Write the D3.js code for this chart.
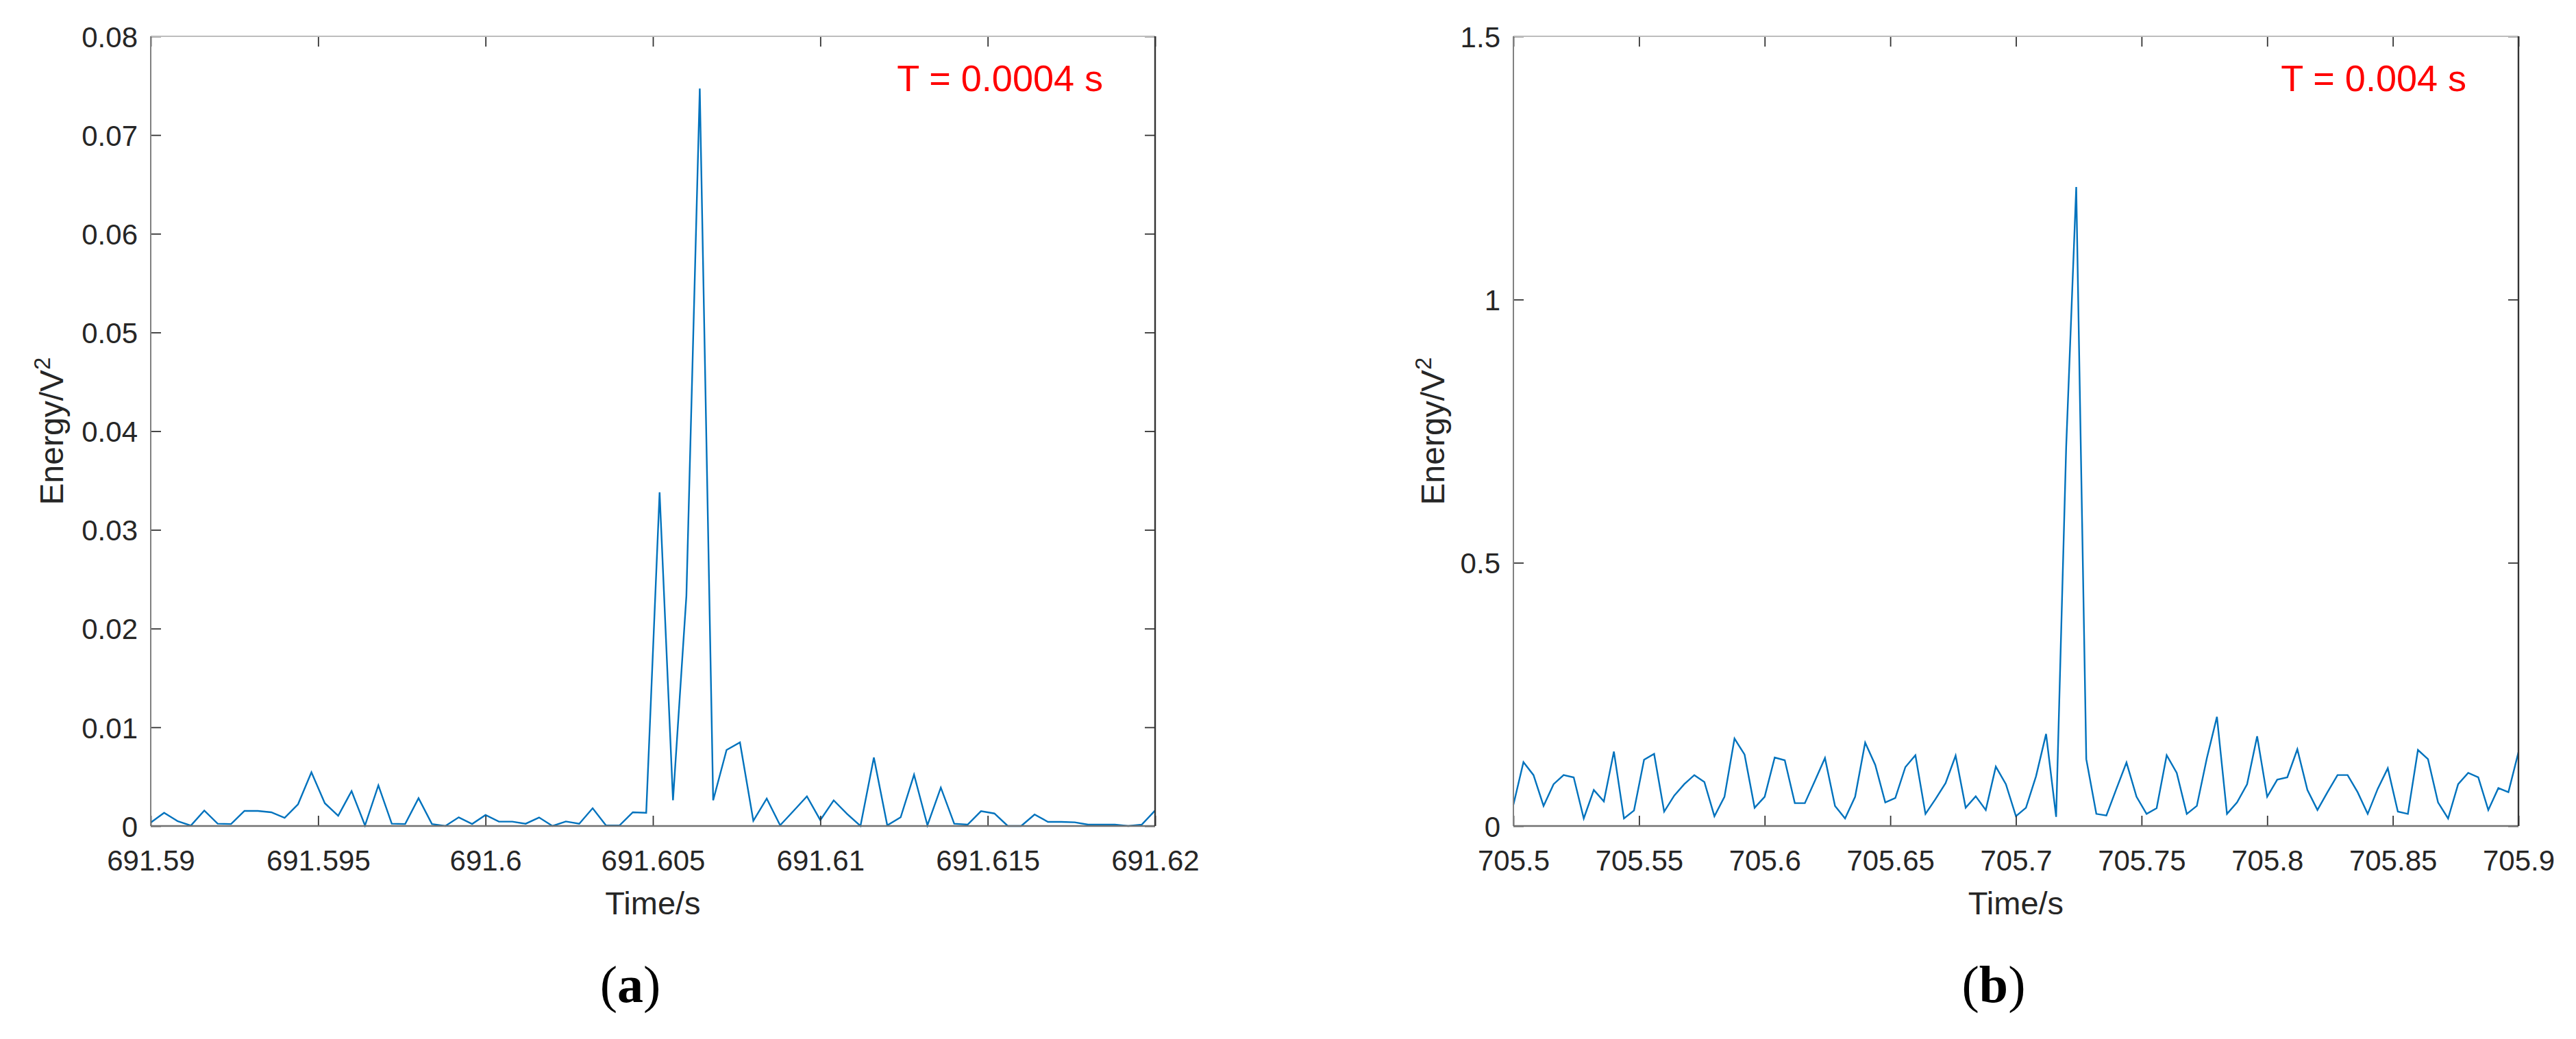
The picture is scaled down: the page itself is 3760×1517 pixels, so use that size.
<!DOCTYPE html>
<html><head><meta charset="utf-8">
<script src="https://cdn.jsdelivr.net/npm/d3@7"></script>
<style>html,body{margin:0;padding:0;background:#fff;} svg{display:block;}</style>
</head><body>
<svg id="chart" width="3760" height="1517"></svg>
<script>
// ---------- data ----------
const leftStart = 691.59;
const leftPeriod = 0.0004;
const leftEnergy = [
  0.00035, 0.00134, 0.0005, 0.00005, 0.00157, 0.00023, 0.0002, 0.00153, 0.00153, 0.00139,
  0.00083, 0.0022, 0.00544, 0.00231, 0.00104, 0.00354, 0.00005, 0.00412, 0.00023, 0.0002,
  0.00282, 0.0002, 0.0, 0.00088, 0.0002, 0.00111, 0.00044, 0.00044, 0.00023, 0.00086,
  0.0, 0.00046, 0.00023, 0.0018, 0.00005, 0.00005, 0.00139, 0.00134, 0.0338, 0.0026,
  0.0233, 0.0747, 0.0026, 0.0077, 0.00847, 0.00053, 0.00278, 0.00007, 0.00153, 0.003,
  0.0006, 0.0026, 0.00123, 0.0, 0.00694, 0.00007, 0.00088, 0.0052, 0.00007, 0.00389,
  0.00023, 0.00014, 0.0015, 0.00127, 0.0, 0.0, 0.00116, 0.00042, 0.00042, 0.00037,
  0.00014, 0.00014, 0.00014, 0.0, 0.00014, 0.00157
];
const leftXTicks = [691.59, 691.595, 691.6, 691.605, 691.61, 691.615, 691.62];
const leftXTickLabels = ["691.59", "691.595", "691.6", "691.605", "691.61", "691.615", "691.62"];
const leftYTicks = [0, 0.01, 0.02, 0.03, 0.04, 0.05, 0.06, 0.07, 0.08];
const leftYTickLabels = ["0", "0.01", "0.02", "0.03", "0.04", "0.05", "0.06", "0.07", "0.08"];
const leftNote = "T = 0.0004 s";
const leftCaption = "a";

const rightStart = 705.5;
const rightPeriod = 0.004;
const rightEnergy = [
  0.0403, 0.1214, 0.0967, 0.0382, 0.0794, 0.0967, 0.0924, 0.0143, 0.0685, 0.0468,
  0.1414, 0.0143, 0.0295, 0.1258, 0.137, 0.0273, 0.0577, 0.0794, 0.0967, 0.0837,
  0.0186, 0.0555, 0.1661, 0.1357, 0.0347, 0.0555, 0.1301, 0.1249, 0.0434, 0.0434,
  0.0859, 0.1292, 0.0382, 0.0143, 0.0555, 0.1583, 0.1162, 0.0447, 0.0533, 0.1119,
  0.1344, 0.023, 0.0512, 0.0815, 0.1336, 0.0347, 0.0564, 0.0304, 0.1127, 0.0794,
  0.0186, 0.0347, 0.0945, 0.1748, 0.0173, 0.72, 1.2137, 0.127, 0.023, 0.02,
  0.0707, 0.1206, 0.0555, 0.023, 0.0338, 0.1344, 0.101, 0.023, 0.0382, 0.1292,
  0.2073, 0.023, 0.0447, 0.0794, 0.1704, 0.0555, 0.088, 0.0924, 0.1457, 0.0685,
  0.0304, 0.0642, 0.0967, 0.0967, 0.0642, 0.023, 0.0707, 0.1097, 0.0273, 0.023,
  0.1444, 0.127, 0.0447, 0.0143, 0.0794, 0.101, 0.0924, 0.0304, 0.072, 0.0642,
  0.14
];
const rightXTicks = [705.5, 705.55, 705.6, 705.65, 705.7, 705.75, 705.8, 705.85, 705.9];
const rightXTickLabels = ["705.5", "705.55", "705.6", "705.65", "705.7", "705.75", "705.8", "705.85", "705.9"];
const rightYTicks = [0, 0.5, 1, 1.5];
const rightYTickLabels = ["0", "0.5", "1", "1.5"];
const rightNote = "T = 0.004 s";
const rightCaption = "b";

const xTitle = "Time/s";
const yTitleMain = "Energy/V";
const yTitleSup = "2";

// ---------- layout ----------
const W = 3760, H = 1517;
const FONT = "'Liberation Sans', Arial, Helvetica, sans-serif";
const TXT = "#262626";
const LINE = "#0072BD";

const panels = [
  { start: leftStart, period: leftPeriod, values: leftEnergy,
    xTicks: leftXTicks, xLabels: leftXTickLabels, yTicks: leftYTicks, yLabels: leftYTickLabels,
    note: leftNote, caption: leftCaption,
    box: { left: 220, right: 1686, top: 53, bottom: 1206 }, yTitleX: 92, captionX: 920 },
  { start: rightStart, period: rightPeriod, values: rightEnergy,
    xTicks: rightXTicks, xLabels: rightXTickLabels, yTicks: rightYTicks, yLabels: rightYTickLabels,
    note: rightNote, caption: rightCaption,
    box: { left: 2209, right: 3676, top: 53, bottom: 1206 }, yTitleX: 2108, captionX: 2910 }
];

const svg = d3.select("#chart").attr("viewBox", `0 0 ${W} ${H}`);
svg.append("rect").attr("width", W).attr("height", H).attr("fill", "#fff");

panels.forEach(p => {
  const b = p.box;
  const xDom = [p.xTicks[0], p.xTicks[p.xTicks.length - 1]];
  const yDom = [p.yTicks[0], p.yTicks[p.yTicks.length - 1]];
  const x = d3.scaleLinear().domain(xDom).range([b.left, b.right]);
  const y = d3.scaleLinear().domain(yDom).range([b.bottom, b.top]);
  const g = svg.append("g");

  const pts = p.values.map((v, i) => ({ t: p.start + i * p.period, v }));

  // data line
  g.append("path")
    .datum(pts)
    .attr("fill", "none")
    .attr("stroke", LINE)
    .attr("stroke-width", 2.4)
    .attr("stroke-linejoin", "miter")
    .attr("d", d3.line().x(d => x(d.t)).y(d => y(d.v)));

  const xLab = new Map(p.xTicks.map((t, i) => [t, p.xLabels[i]]));
  const yLab = new Map(p.yTicks.map((t, i) => [t, p.yLabels[i]]));

  function styleAxis(sel) {
    sel.attr("font-family", FONT).attr("font-size", 42);
    sel.select(".domain").remove();
    sel.selectAll(".tick line").attr("stroke", "#333").attr("stroke-width", 1.8);
    sel.selectAll(".tick text").attr("fill", TXT);
  }

  g.append("g").attr("transform", `translate(0,${b.bottom})`)
    .call(d3.axisBottom(x).tickValues(p.xTicks).tickFormat(d => xLab.get(d))
      .tickSizeInner(-15).tickSizeOuter(0).tickPadding(35))
    .call(styleAxis);
  g.append("g").attr("transform", `translate(0,${b.top})`)
    .call(d3.axisTop(x).tickValues(p.xTicks).tickFormat("")
      .tickSizeInner(-15).tickSizeOuter(0))
    .call(styleAxis);
  g.append("g").attr("transform", `translate(${b.left},0)`)
    .call(d3.axisLeft(y).tickValues(p.yTicks).tickFormat(d => yLab.get(d))
      .tickSizeInner(-15).tickSizeOuter(0).tickPadding(19))
    .call(styleAxis)
    .selectAll(".tick text").attr("dy", "0.36em");
  g.append("g").attr("transform", `translate(${b.right},0)`)
    .call(d3.axisRight(y).tickValues(p.yTicks).tickFormat("")
      .tickSizeInner(-15).tickSizeOuter(0))
    .call(styleAxis);

  // box lines
  g.append("line").attr("x1", b.left).attr("x2", b.right).attr("y1", b.top).attr("y2", b.top)
    .attr("stroke", "#bdbdbd").attr("stroke-width", 2);
  g.append("line").attr("x1", b.left).attr("x2", b.left).attr("y1", b.top).attr("y2", b.bottom)
    .attr("stroke", "#808080").attr("stroke-width", 2);
  g.append("line").attr("x1", b.left).attr("x2", b.right).attr("y1", b.bottom).attr("y2", b.bottom)
    .attr("stroke", "#707070").attr("stroke-width", 2.4);
  g.append("line").attr("x1", b.right).attr("x2", b.right).attr("y1", b.top).attr("y2", b.bottom)
    .attr("stroke", "#333333").attr("stroke-width", 2.4);

  // x title
  g.append("text").attr("x", (b.left + b.right) / 2).attr("y", 1335)
    .attr("text-anchor", "middle").attr("font-family", FONT).attr("font-size", 47)
    .attr("fill", TXT).text(xTitle);

  // y title
  const yt = g.append("text")
    .attr("transform", `translate(${p.yTitleX},${(b.top + b.bottom) / 2}) rotate(-90)`)
    .attr("text-anchor", "middle").attr("font-family", FONT).attr("font-size", 48)
    .attr("fill", TXT);
  yt.append("tspan").text(yTitleMain);
  yt.append("tspan").attr("font-size", 33).attr("dy", -19).text(yTitleSup);

  // annotation
  g.append("text").attr("x", b.right - 76).attr("y", 133)
    .attr("text-anchor", "end").attr("font-family", FONT).attr("font-size", 54)
    .attr("fill", "#ff0000").text(p.note);

  // caption
  const cap = g.append("text").attr("x", p.captionX).attr("y", 1463)
    .attr("text-anchor", "middle")
    .attr("font-family", "'Palatino Linotype', 'Book Antiqua', 'Liberation Serif', 'DejaVu Serif', serif")
    .attr("font-size", 76).attr("fill", "#000");
  cap.append("tspan").text("(");
  cap.append("tspan").attr("font-weight", "bold").text(p.caption);
  cap.append("tspan").text(")");
});
</script>
</body></html>
